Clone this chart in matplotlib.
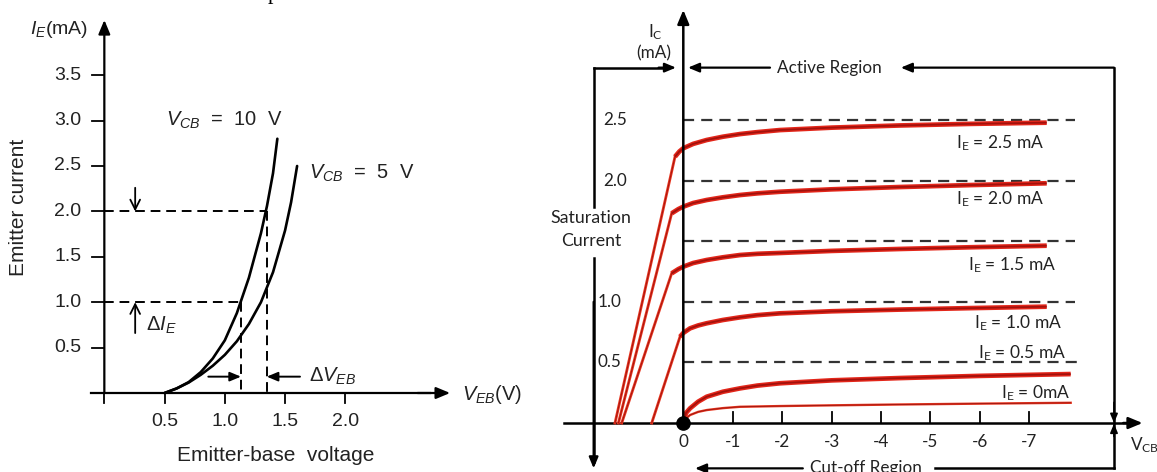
import matplotlib
matplotlib.use("Agg")
import matplotlib.pyplot as plt

plt.rcParams['mathtext.fontset'] = 'custom'
plt.rcParams['mathtext.it'] = 'Liberation Sans:italic'
plt.rcParams['mathtext.rm'] = 'Lato'

# ---- left panel: input characteristic (I_E vs V_EB) ----
veb_ticks = [0.5, 1.0, 1.5, 2.0]
ie_ticks = [0.5, 1.0, 1.5, 2.0, 2.5, 3.0, 3.5]

vcb10_v = [0.5, 0.6, 0.7, 0.8, 0.9, 1.0, 1.1, 1.2, 1.3, 1.35, 1.4, 1.436]
vcb10_i = [0, 0.05, 0.12, 0.23, 0.38, 0.58, 0.88, 1.27, 1.76, 2.06, 2.42, 2.8]
vcb5_v = [0.5, 0.6, 0.7, 0.8, 0.9, 1.0, 1.1, 1.2, 1.3, 1.4, 1.5, 1.55, 1.6]
vcb5_i = [0, 0.05, 0.115, 0.2, 0.3, 0.42, 0.57, 0.76, 1.0, 1.33, 1.79, 2.1, 2.5]

guide_ie = [1.0, 2.0]        # dashed current levels
guide_veb = [1.134, 1.348]   # matching voltages

# ---- right panel: output characteristic (I_C vs V_CB) ----
vcb_ticks = [0, -1, -2, -3, -4, -5, -6, -7]
ic_ticks = [0.5, 1.0, 2.0, 2.5]
ie_levels = [2.5, 2.0, 1.5, 1.0, 0.5, 0.0]

v_sat = [0.168, 0.08, 0.0, -0.2, -0.473, -0.8, -1.147, -1.5, -1.956, -3.0, -4.38, -5.8, -7.352]
ic_v = {
    2.5: [1.382] + v_sat,
    2.0: [1.313, 0.235, 0.1] + v_sat[2:],
    1.5: [1.246, 0.235, 0.1] + v_sat[2:],
    1.0: [0.639, 0.067, 0.0, -0.136, -0.3, -0.473, -0.8, -1.147, -1.5, -1.956, -3.0, -4.38, -5.8, -7.352],
    0.5: [0.0, -0.055, -0.136, -0.3, -0.473, -0.8, -1.147, -1.5, -1.956, -3.0, -4.38, -6.0, -7.837],
    0.0: [0.0, -0.05, -0.136, -0.3, -0.473, -0.8, -1.147, -1.956, -3.0, -4.38, -6.0, -7.837],
}
ic_i = {
    2.5: [0, 2.197, 2.24, 2.267, 2.303, 2.335, 2.362, 2.384, 2.40, 2.417, 2.437, 2.455, 2.468, 2.478],
    2.0: [0, 1.730, 1.765, 1.785, 1.815, 1.840, 1.862, 1.881, 1.895, 1.908, 1.928, 1.947, 1.963, 1.978],
    1.5: [0, 1.235, 1.27, 1.290, 1.320, 1.345, 1.367, 1.386, 1.396, 1.403, 1.42, 1.436, 1.45, 1.463],
    1.0: [0, 0.712, 0.743, 0.781, 0.805, 0.823, 0.850, 0.872, 0.890, 0.905, 0.922, 0.936, 0.948, 0.960],
    0.5: [0, 0.083, 0.121, 0.176, 0.217, 0.258, 0.286, 0.309, 0.328, 0.352, 0.371, 0.389, 0.404],
    0.0: [0, 0.035, 0.066, 0.092, 0.107, 0.123, 0.134, 0.140, 0.146, 0.153, 0.160, 0.167],
}

fig = plt.figure(figsize=(11.57, 4.72), dpi=100)
fig.patch.set_facecolor('white')


def arrow(ax, tail, tip, style='-|>,head_length=0.6,head_width=0.25', ms=14, lw=1.6):
    ax.annotate('', xy=tip, xytext=tail,
                arrowprops=dict(arrowstyle=style, color='black', lw=lw,
                                mutation_scale=ms, shrinkA=0, shrinkB=0))


# ================= left =================
axL = fig.add_axes([0, 0, 540 / 1157, 1])
axL.set_xlim(-0.866, 3.616)
axL.set_ylim(-0.870, 4.328)
axL.axis('off')
fL = dict(family='Liberation Sans', color='#222222')

arrow(axL, (0, 0), (0, 4.108), lw=1.6)
axL.plot([-0.11, 2.7], [0, 0], color='black', lw=1.6)
arrow(axL, (2.6, 0), (2.87, 0), lw=1.6)

for t in ie_ticks:
    axL.plot([-0.105, 0], [t, t], color='black', lw=1.3)
    axL.text(-0.19, t, f'{t:.1f}', ha='right', va='center', fontsize=14, **fL)
for t in [0] + veb_ticks:
    axL.plot([t, t], [0, -0.115], color='black', lw=1.3)
for t in veb_ticks:
    axL.text(t, -0.316, f'{t:.1f}', ha='center', va='center', fontsize=14, **fL)

axL.plot(vcb10_v, vcb10_i, color='black', lw=1.9, solid_capstyle='round')
axL.plot(vcb5_v, vcb5_i, color='black', lw=1.9, solid_capstyle='round')

for lev, v in zip(guide_ie, guide_veb):
    axL.plot([0, v], [lev, lev], color='black', lw=1.4, ls=(0, (5, 3)))
    axL.plot([v, v], [lev, 0], color='black', lw=1.4, ls=(0, (5, 3)))

arrow(axL, (0.256, 0.66), (0.256, 1.0), style='->,head_length=0.5,head_width=0.25', lw=1.3)
arrow(axL, (0.256, 2.26), (0.256, 2.0), style='->,head_length=0.5,head_width=0.25', lw=1.3)
arrow(axL, (0.863, 0.18), (guide_veb[0], 0.18), lw=1.4, ms=11)
arrow(axL, (1.624, 0.18), (guide_veb[1], 0.18), lw=1.4, ms=11)

axL.text(-0.135, 3.998, r'$I_E$(mA)', ha='right', va='center', fontsize=14, **fL)
axL.text(-0.716, 2.048, 'Emitter current', rotation=90, ha='center', va='center',
         fontsize=15, **fL)
axL.text(0.512, 3.007, r'$V_{CB}$  =  10  V', ha='left', va='center', fontsize=14.5, **fL)
axL.text(1.699, 2.423, r'$V_{CB}$  =  5  V', ha='left', va='center', fontsize=14.5, **fL)
axL.text(0.346, 0.749, r'Δ$I_E$', ha='left', va='center', fontsize=14.5, **fL)
axL.text(1.699, 0.18, r'Δ$V_{EB}$', ha='left', va='center', fontsize=14.5, **fL)
axL.text(2.966, -0.02, r'$V_{EB}$(V)', ha='left', va='center', fontsize=14.5, **fL)
axL.text(1.425, -0.683, 'Emitter-base  voltage', ha='center', va='center',
         fontsize=15, **fL)

fig.text(273 / 1157, 1.0 + 1.5 / 472, 'p', family='Liberation Serif', fontsize=16,
         ha='center', va='baseline')

# ================= right =================
axR = fig.add_axes([540 / 1157, 0, 617 / 1157, 1])
axR.set_xlim(2.899, -9.583)
axR.set_ylim(-0.404, 3.490)
axR.axis('off')
fR = dict(family='Lato', color='#222222')

# frame / region markers
top, bot, xl, xr = 2.932, -0.374, 1.814, -8.713
axR.plot([xl, xl], [top, 1.785], color='black', lw=1.8)
axR.plot([xl, xl], [1.359, bot + 0.05], color='black', lw=1.8)
arrow(axR, (xl, 1.0), (xl, bot), ms=11)
axR.plot([xl, 0.3], [top, top], color='black', lw=1.8)
arrow(axR, (0.5, top), (0.148, top), ms=11)
arrow(axR, (-1.754, top), (-0.095, top), ms=11)
axR.text(-2.948, top, 'Active Region', ha='center', va='center', fontsize=12.3, **fR)
arrow(axR, (xr, top), (-4.40, top), ms=11)
axR.plot([xr, xr], [top, bot], color='black', lw=1.8)
arrow(axR, (xr, 0.17), (xr, 0.0), ms=9, lw=1.2)
arrow(axR, (xr, -0.11), (xr, -0.005), ms=9, lw=1.2)
axR.plot([xr, -5.09], [bot, bot], color='black', lw=1.8)
arrow(axR, (-2.418, bot), (-0.237, bot), ms=11)
axR.text(-3.696, bot, 'Cut-off Region', ha='center', va='center', fontsize=12.3, **fR)

# axes
arrow(axR, (0, 0), (0, 3.408), lw=1.8)
axR.plot([2.422, -9.0], [0, 0], color='black', lw=1.8)
arrow(axR, (-8.9, 0), (-9.29, 0), lw=1.8)
for t in vcb_ticks[1:]:
    axR.plot([t, t], [0, 0.09], color='black', lw=1.3)
for t in vcb_ticks:
    axR.text(t, -0.155, f'{t}', ha='center', va='center', fontsize=12.3, **fR)
for t in ic_ticks:
    x0 = 1.625 if t >= 2.0 else 1.726
    axR.text(x0, t, f'{t:.1f}', ha='left', va='center', fontsize=12.3, **fR)

# dashed reference levels
for lev in [2.5, 2.0, 1.5, 1.0, 0.5]:
    end = -8.03 if lev == 0.5 else -7.92
    axR.plot([0, end], [lev, lev], color='#333333', lw=1.6, ls=(0, (5, 3.2)))

# curves
for lev in ie_levels:
    v, i = ic_v[lev], ic_i[lev]
    if lev == 0.0:
        axR.plot(v, i, color='#e8361f', lw=1.7)
        axR.plot(v, i, color='#9c1510', lw=0.6)
        continue
    if lev >= 1.0:
        axR.plot(v[:2], i[:2], color='#e8361f', lw=2.0)
        axR.plot(v[:2], i[:2], color='#a8140f', lw=0.7)
        v, i = v[1:], i[1:]
    axR.plot(v, i, color='#e3261a', lw=3.4, solid_capstyle='butt', solid_joinstyle='round')
    axR.plot(v, i, color='#a3110c', lw=1.3, solid_capstyle='butt', solid_joinstyle='round')

axR.plot([0], [0], 'o', color='black', ms=9.5)

# labels
lab_pos = {2.5: (-7.31, 2.308), 2.0: (-7.31, 1.846), 1.5: (-7.55, 1.304),
           1.0: (-7.67, 0.823), 0.5: (-7.75, 0.580), 0.0: (-7.83, 0.250)}
for lev in ie_levels:
    txt = r'I$_\mathrm{E}$ = 0mA' if lev == 0 else rf'I$_\mathrm{{E}}$ = {lev:.1f} mA'
    x, y = lab_pos[lev]
    axR.text(x, y, txt, ha='right', va='center', fontsize=12.5, **fR)

axR.text(0.573, 3.226, r'I$_\mathrm{C}$', ha='center', va='center', fontsize=12.3, **fR)
axR.text(0.593, 3.053, '(mA)', ha='center', va='center', fontsize=12.3, **fR)
axR.text(1.867, 1.69, 'Saturation', ha='center', va='center', fontsize=12.8, **fR)
axR.text(1.867, 1.50, 'Current', ha='center', va='center', fontsize=12.8, **fR)
axR.text(-9.04, -0.18, r'V$_\mathrm{CB}$', ha='left', va='center', fontsize=12.3, **fR)

fig.savefig('out.png', dpi=100)
